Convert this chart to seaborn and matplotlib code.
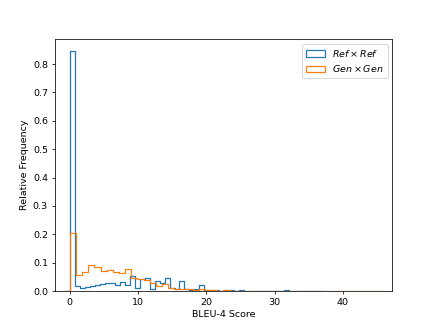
import numpy as np
import pandas as pd
import matplotlib
matplotlib.use("Agg")
import matplotlib.pyplot as plt
import seaborn as sns
from matplotlib.patches import Patch

# Bin edges (BLEU-4 score)
ref_edges = np.linspace(0, 36.5, 51)
gen_edges = np.linspace(0, 45, 51)

# Relative frequency per bin
ref_freq = [0.845, 0.016, 0.011, 0.015, 0.019, 0.020, 0.024, 0.027, 0.030, 0.020,
            0.033, 0.022, 0.052, 0.012, 0.042, 0.047, 0.008, 0.035, 0.030, 0.046,
            0.010, 0.006, 0.036, 0.007, 0.004, 0.006, 0.020, 0.003, 0.002, 0.002,
            0.001, 0.003, 0.004, 0.001, 0.002, 0.001, 0.001, 0.000, 0.001, 0.000,
            0.000, 0.000, 0.000, 0.002, 0.000, 0.000, 0.000, 0.000, 0.000, 0.000]
gen_freq = [0.206, 0.057, 0.066, 0.093, 0.084, 0.070, 0.075, 0.067, 0.062, 0.078,
            0.046, 0.044, 0.040, 0.027, 0.018, 0.024, 0.010, 0.008, 0.006, 0.007,
            0.004, 0.006, 0.002, 0.002, 0.001, 0.002, 0.001, 0.001, 0.001, 0.000,
            0.001, 0.000, 0.001, 0.000, 0.000, 0.000, 0.000, 0.000, 0.000, 0.000,
            0.000, 0.000, 0.000, 0.000, 0.000, 0.000, 0.000, 0.000, 0.000, 0.001]

labels = [r"$Ref \times Ref$", r"$Gen \times Gen$"]
colors = ["#1f77b4", "#ff7f0e"]
LW = 1.3

fig, ax = plt.subplots(figsize=(6.4, 4.8), dpi=68.125)

for edges, freq, col in [(ref_edges, ref_freq, colors[0]), (gen_edges, gen_freq, colors[1])]:
    w = edges[1] - edges[0]
    # pad with an empty bin at each end so the outline closes down to zero
    e = np.concatenate([[edges[0] - w], edges, [edges[-1] + w]])
    f = np.concatenate([[0.0], freq, [0.0]])
    centers = (e[:-1] + e[1:]) / 2
    df = pd.DataFrame({"score": centers, "freq": f})
    sns.histplot(data=df, x="score", weights="freq", bins=list(e),
                 element="step", fill=False, color=col, linewidth=LW, ax=ax)

ax.set_xlim(-2.25, 47.25)
ax.set_ylim(0, 0.8873)
ax.set_xlabel("BLEU-4 Score")
ax.set_ylabel("Relative Frequency")
handles = [Patch(facecolor="none", edgecolor=c, linewidth=LW) for c in colors]
ax.legend(handles, labels, loc="upper right")

fig.savefig("out.png", dpi=68.125)
